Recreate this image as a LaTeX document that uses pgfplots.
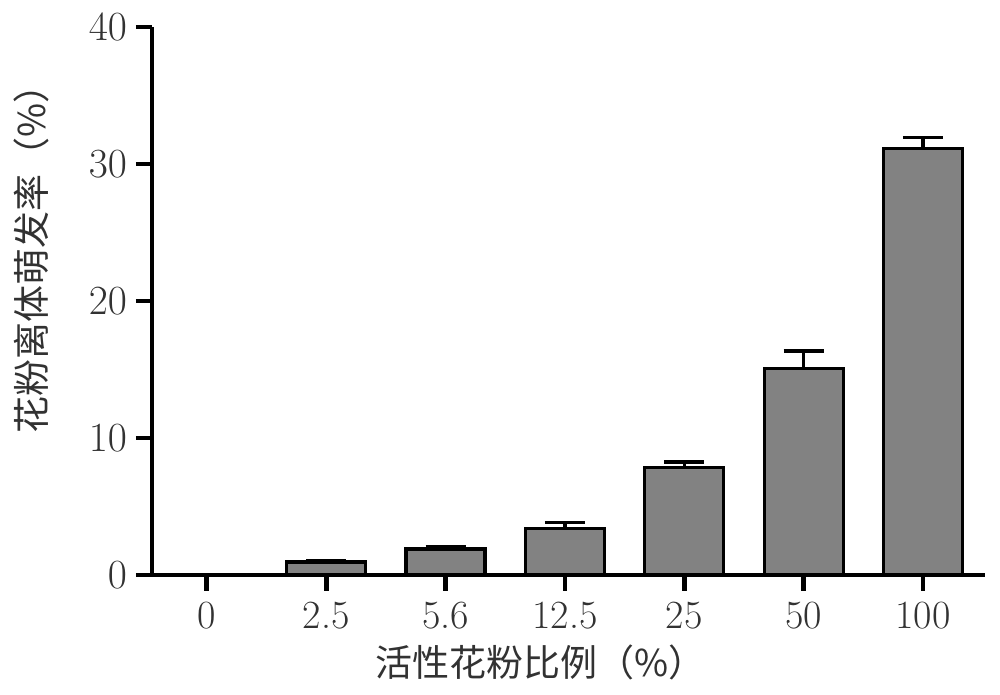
\documentclass[border=0pt]{standalone}
\usepackage{pgfplots}
\pgfplotsset{compat=1.18}
\usepackage{fontspec}
\newfontfamily\cjk{Noto Sans CJK SC}
\definecolor{barfill}{RGB}{130,130,130}
\definecolor{txt}{RGB}{50,50,50}

\begin{document}
\begin{tikzpicture}
\begin{axis}[
  at={(0,0)}, anchor=south west,
  scale only axis,
  width=416.5pt, height=274pt,
  xmin=-0.46, xmax=6.52,
  ymin=0, ymax=40,
  axis x line=bottom, axis y line=left,
  axis line style={-, line width=2.4pt},
  xtick=data,
  xticklabels={0,2.5,5.6,12.5,25,50,100},
  ytick={0,10,20,30,40},
  tick align=outside,
  major tick length=8pt,
  tick style={line width=2.4pt, black},
  tick label style={font=\fontsize{20}{23}\selectfont, text=txt},
  xticklabel style={yshift=-2pt},
  yticklabel style={xshift=-1pt},
  xlabel={\cjk\fontsize{18.5}{22}\selectfont 活性花粉比例（\%）},
  ylabel={\cjk\fontsize{18.5}{22}\selectfont 花粉离体萌发率（\%）},
  xlabel style={at={(axis description cs:0.466,-0.159)}, anchor=center, text=txt},
  ylabel style={at={(axis description cs:-0.145,0.593)}, anchor=center, text=txt},
  ybar, bar width=39.5pt, bar shift=0pt,
  clip=false,
]
\addplot[
  fill=barfill, draw=black, line width=1.6pt,
  error bars/.cd, y dir=plus, y explicit,
  error bar style={line width=1.6pt, black},
  error mark options={rotate=90, mark size=10pt, line width=1.6pt, black},
] coordinates {
  (0,0) +- (0,0)
  (1,0.95) +- (0,0.08)
  (2,1.9) +- (0,0.15)
  (3,3.4) +- (0,0.45)
  (4,7.85) +- (0,0.4)
  (5,15.1) +- (0,1.25)
  (6,31.15) +- (0,0.8)
};
\end{axis}
\path[use as bounding box] (-76pt,-60pt) rectangle (424pt,287.5pt);
\end{tikzpicture}
\end{document}
